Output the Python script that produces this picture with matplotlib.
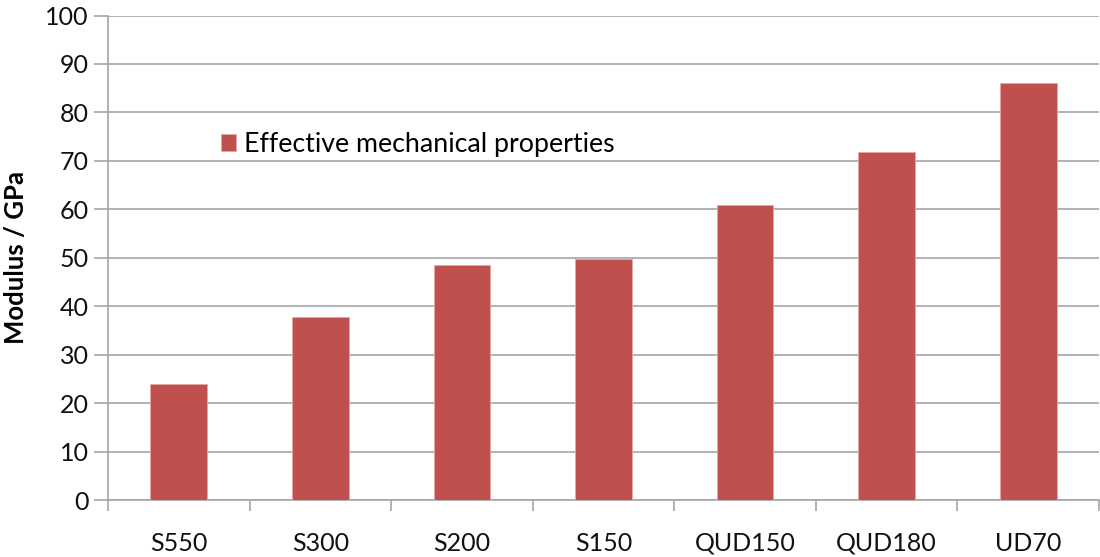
import matplotlib
matplotlib.use("Agg")
import matplotlib.pyplot as plt
import numpy as np

categories = ["S550", "S300", "S200", "S150", "QUD150", "QUD180", "UD70"]
values = [24.0, 37.7, 48.6, 49.8, 60.8, 71.9, 86.0]
yticks = [0, 10, 20, 30, 40, 50, 60, 70, 80, 90, 100]
series_name = "Effective mechanical properties"

plt.rcParams['font.family'] = ['Lato', 'DejaVu Sans']

W, H = 1100, 557
fig = plt.figure(figsize=(W/100, H/100), dpi=100)
ax = fig.add_axes([108/W, (H-500)/H, (1099-108)/W, (500-15.5)/H])

grid_col = "#A6A6A6"
bar_col = "#C0504D"
x = np.arange(len(categories))
ax.bar(x, values, width=0.40, color=bar_col, edgecolor="#E6A8A6", linewidth=0.6,
       zorder=3, label=series_name)

ax.set_xlim(-0.5, len(categories) - 0.5)
ax.set_ylim(0, 100)
ax.set_yticks(yticks)
ax.yaxis.grid(True, color=grid_col, linewidth=1.2, zorder=0)
ax.tick_params(axis='y', length=10, width=1.2, color=grid_col, labelsize=18, pad=4, labelcolor="#111111")

# category boundaries as major ticks, labels at centers via minor ticks
ax.set_xticks(np.arange(len(categories) + 1) - 0.5)
ax.set_xticklabels([])
ax.set_xticks(x, minor=True)
ax.set_xticklabels(categories, minor=True)
ax.tick_params(axis='x', which='major', length=8, width=1.2, color=grid_col)
ax.tick_params(axis='x', which='minor', length=0, labelsize=18, pad=23, labelcolor="#111111")

for s in ["top", "right"]:
    ax.spines[s].set_visible(False)
for s in ["left", "bottom"]:
    ax.spines[s].set_color(grid_col)
    ax.spines[s].set_linewidth(1.2)

fig.text(16/W, 1 - 257.5/H, "Modulus / GPa", rotation=90, ha="center", va="center",
         fontsize=18.5, fontweight="bold", color="#000000")

leg = ax.legend(loc="upper left", bbox_to_anchor=((221-108)/(1099-108), 1 - (132-15.5)/(500-15.5)),
                frameon=False, fontsize=19.3, handlelength=0.55, handleheight=0.55,
                handletextpad=0.3, borderpad=0, borderaxespad=0)

fig.savefig("out.png", dpi=100)
